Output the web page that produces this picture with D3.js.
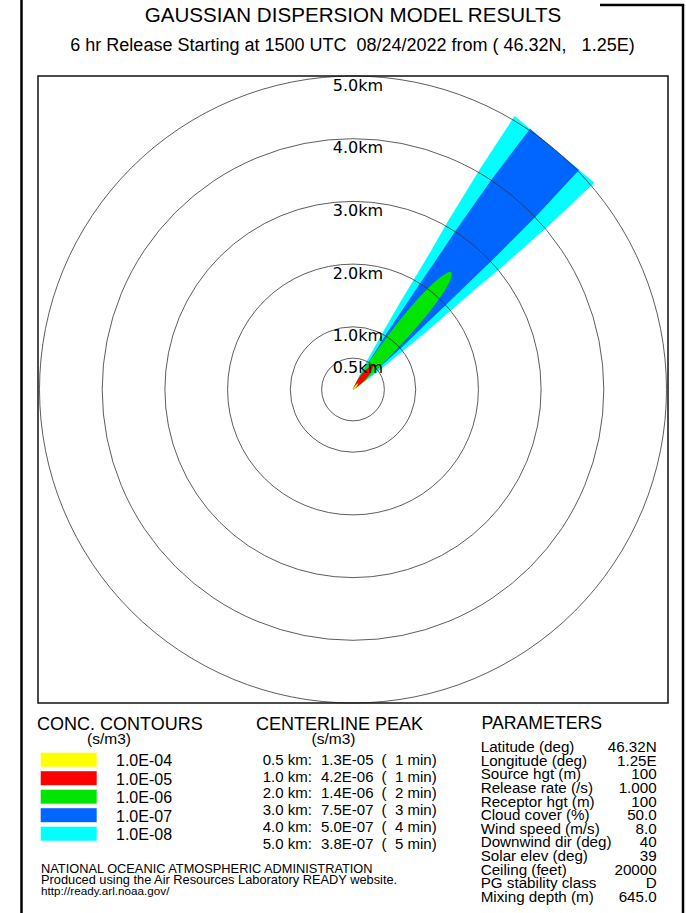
<!DOCTYPE html>
<html>
<head>
<meta charset="utf-8">
<script src="https://cdn.jsdelivr.net/npm/d3@7"></script>
<style>
  body { margin: 0; background: #fff; }
  svg { display: block; }
  text { font-family: "Liberation Sans", Arial, Helvetica, sans-serif; fill: #000; }
</style>
</head>
<body>
<div id="chart"></div>
<script>
// rings drawn around the source (km)
var ringKm = [0.5, 1, 2, 3, 4, 5];
var downwindDeg = 40;

// contour levels (s/m3) and their fill colours
var levelLabels = ["1.0E-04", "1.0E-05", "1.0E-06", "1.0E-07", "1.0E-08"];
var levelColors = ["#ffff00", "#ff0000", "#00e600", "#0066ff", "#00ffff"];

// plume outlines: [distance downwind km, half width km]
var plumeYellow = [[0, 0], [0.03, 0.01], [0.08, 0.013], [0.13, 0]];
var plumeRed = [[0, 0], [0.1, 0.03], [0.22, 0.048], [0.35, 0.048], [0.44, 0.028], [0.5, 0]];
var plumeGreen = [[0.03, 0], [0.15, 0.04], [0.5, 0.085], [1.0, 0.125], [1.5, 0.14], [1.9, 0.128], [2.2, 0.095], [2.38, 0.05], [2.44, 0]];
var plumeBlue = [[0, 0], [0.25, 0.05], [0.5, 0.09], [1, 0.16], [1.5, 0.215], [2, 0.27], [2.5, 0.32], [3, 0.375], [4, 0.46], [5, 0.51]];
var plumeCyan = [[0, 0], [0.25, 0.07], [0.5, 0.125], [1, 0.22], [1.5, 0.31], [2, 0.39], [2.5, 0.47], [3, 0.56], [4, 0.71], [5, 0.83]];

// centerline peak table
var peakDist = ["0.5 km:", "1.0 km:", "2.0 km:", "3.0 km:", "4.0 km:", "5.0 km:"];
var peakConc = ["1.3E-05", "4.2E-06", "1.4E-06", "7.5E-07", "5.0E-07", "3.8E-07"];
var peakTime = ["1 min)", "1 min)", "2 min)", "3 min)", "4 min)", "5 min)"];

// parameters table
var paramNames = ["Latitude (deg)", "Longitude (deg)", "Source hgt (m)", "Release rate (/s)", "Receptor hgt (m)",
  "Cloud cover (%)", "Wind speed (m/s)", "Downwind dir (deg)", "Solar elev (deg)", "Ceiling (feet)",
  "PG stability class", "Mixing depth (m)"];
var paramValues = ["46.32N", "1.25E", "100", "1.000", "100", "50.0", "8.0", "40", "39", "20000", "D", "645.0"];

var W = 686, H = 913;
var box = {left: 38, top: 76, right: 668, bottom: 703};
var cx = (box.left + box.right) / 2, cy = (box.top + box.bottom) / 2;

var svg = d3.select("#chart").append("svg")
    .attr("width", W)
    .attr("height", H);

// page frame
svg.append("line").attr("x1", 21.5).attr("x2", 21.5).attr("y1", 0).attr("y2", H)
    .attr("stroke", "#000").attr("stroke-width", 2.5);
svg.append("line").attr("x1", 683).attr("x2", 683).attr("y1", 5).attr("y2", H)
    .attr("stroke", "#000").attr("stroke-width", 2.5);
svg.append("line").attr("x1", 600).attr("x2", 684.2).attr("y1", 5).attr("y2", 5)
    .attr("stroke", "#000").attr("stroke-width", 2.5);

// titles
svg.append("text").attr("x", 353).attr("y", 22).attr("text-anchor", "middle")
    .style("font-size", "20.6px").text("GAUSSIAN DISPERSION MODEL RESULTS");
svg.append("text").attr("x", 352.5).attr("y", 51).attr("text-anchor", "middle")
    .style("font-size", "18px").style("white-space", "pre")
    .text("6 hr Release Starting at 1500 UTC  08/24/2022 from ( 46.32N,   1.25E)");

// km -> px
var r = d3.scaleLinear()
    .domain([0, d3.max(ringKm)])
    .range([0, (box.bottom - box.top) / 2]);

var theta = downwindDeg * Math.PI / 180;
function px(s, t) { return cx + r(s) * Math.sin(theta) + r(t) * Math.cos(theta); }
function py(s, t) { return cy - r(s) * Math.cos(theta) + r(t) * Math.sin(theta); }

// left side out to the far end, right side back to the source
function outline(profile) {
  var left = profile.map(function (d) { return [d[0], -d[1]]; });
  var right = profile.slice().reverse().map(function (d) { return [d[0], d[1]]; });
  return left.concat(right);
}

var plumes = [plumeCyan, plumeBlue, plumeGreen, plumeRed, plumeYellow];
var plumeFill = [levelColors[4], levelColors[3], levelColors[2], levelColors[1], levelColors[0]];
var smooth = [false, false, true, true, true];

var plumeG = svg.append("g");
plumes.forEach(function (p, i) {
  var pts = outline(p);
  var line = d3.line()
      .x(function (d) { return px(d[0], d[1]); })
      .y(function (d) { return py(d[0], d[1]); });
  if (smooth[i]) {
    // drop the doubled tip points so the closed curve stays round
    pts = pts.filter(function (d, k) { return k !== p.length && k !== pts.length - 1; });
    line.curve(d3.curveCatmullRomClosed);
    plumeG.append("path").attr("d", line(pts)).attr("fill", plumeFill[i]);
  } else {
    plumeG.append("path").attr("d", line(pts) + "Z").attr("fill", plumeFill[i]);
  }
});

// range rings
svg.append("g").selectAll("circle")
  .data(ringKm)
  .enter()
  .append("circle")
    .attr("cx", cx)
    .attr("cy", cy)
    .attr("r", function (d) { return r(d); })
    .attr("fill", "none")
    .attr("stroke", "#333")
    .attr("stroke-width", 0.8);

svg.append("g").selectAll("text")
  .data(ringKm)
  .enter()
  .append("text")
    .attr("x", cx + 5)
    .attr("y", function (d) { return cy - r(d) + 14.5; })
    .attr("text-anchor", "middle")
    .style("font-family", "'DejaVu Sans', sans-serif")
    .style("font-size", "16px")
    .text(function (d) { return d.toFixed(1) + "km"; });

// plot box
svg.append("rect")
    .attr("x", box.left).attr("y", box.top)
    .attr("width", box.right - box.left).attr("height", box.bottom - box.top)
    .attr("fill", "none").attr("stroke", "#111").attr("stroke-width", 1.5);

// concentration legend
svg.append("text").attr("x", 37).attr("y", 730).style("font-size", "18px").text("CONC. CONTOURS");
svg.append("text").attr("x", 109).attr("y", 743.5).attr("text-anchor", "middle").style("font-size", "15.5px").text("(s/m3)");

var legend = svg.append("g").selectAll("g")
  .data(levelLabels)
  .enter()
  .append("g")
    .attr("transform", function (d, i) { return "translate(0," + (752.7 + i * 18.5) + ")"; });
legend.append("rect")
    .attr("x", 40.7).attr("y", 0).attr("width", 56).attr("height", 14)
    .attr("fill", function (d, i) { return levelColors[i]; });
legend.append("text")
    .attr("x", 116).attr("y", 13.3)
    .style("font-size", "16px")
    .text(function (d) { return d; });

// centerline peak
svg.append("text").attr("x", 256).attr("y", 729.5).style("font-size", "18px").text("CENTERLINE PEAK");
svg.append("text").attr("x", 333.5).attr("y", 743.5).attr("text-anchor", "middle").style("font-size", "15.5px").text("(s/m3)");

var peak = svg.append("g").selectAll("g")
  .data(peakDist)
  .enter()
  .append("g")
    .attr("transform", function (d, i) { return "translate(0," + (765 + i * 16.7) + ")"; });
peak.append("text").attr("x", 262.7).style("font-size", "15px").text(function (d) { return d; });
peak.append("text").attr("x", 321).style("font-size", "15px").text(function (d, i) { return peakConc[i]; });
peak.append("text").attr("x", 381.5).style("font-size", "15px").text("(");
peak.append("text").attr("x", 436.7).attr("text-anchor", "end").style("font-size", "15px")
    .text(function (d, i) { return peakTime[i]; });

// parameters
svg.append("text").attr("x", 481.5).attr("y", 728.5).style("font-size", "17.7px").text("PARAMETERS");

var params = svg.append("g").selectAll("g")
  .data(paramNames)
  .enter()
  .append("g")
    .attr("transform", function (d, i) { return "translate(0," + (752.3 + i * 13.58) + ")"; });
params.append("text").attr("x", 480.7).style("font-size", "15.2px").text(function (d) { return d; });
params.append("text").attr("x", 656.7).attr("text-anchor", "end").style("font-size", "15.2px")
    .text(function (d, i) { return paramValues[i]; });

// footer
svg.append("text").attr("x", 41).attr("y", 873.3).style("font-size", "12.8px")
    .text("NATIONAL OCEANIC ATMOSPHERIC ADMINISTRATION");
svg.append("text").attr("x", 41).attr("y", 884.3).style("font-size", "12.8px")
    .text("Produced using the Air Resources Laboratory READY website.");
svg.append("text").attr("x", 41).attr("y", 895.3).style("font-size", "11.7px")
    .text("http://ready.arl.noaa.gov/");
</script>
</body>
</html>
